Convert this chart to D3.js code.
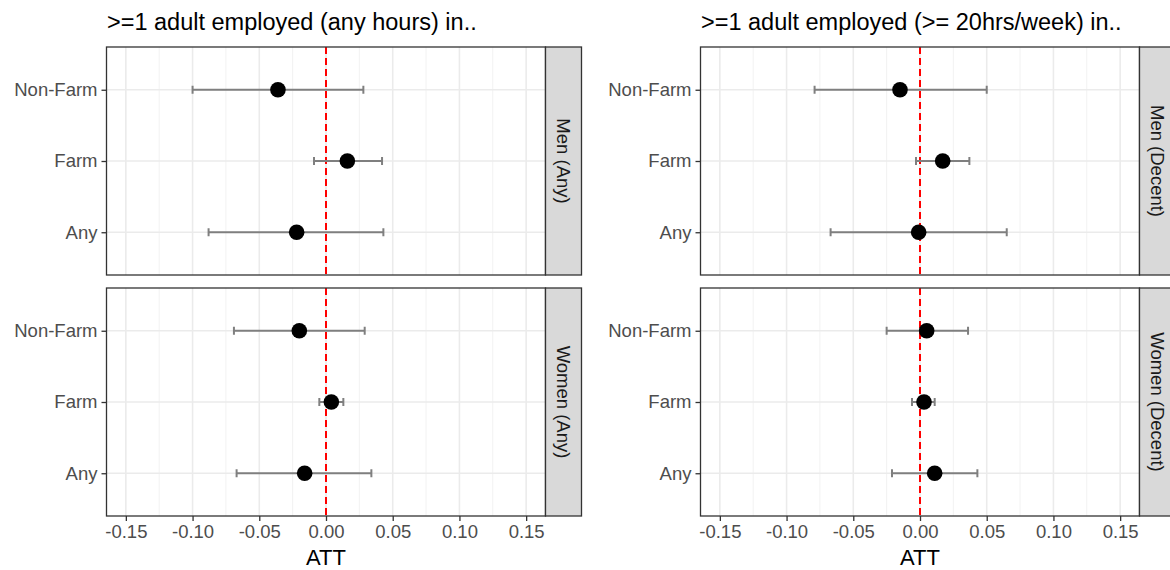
<!DOCTYPE html>
<html>
<head>
<meta charset="utf-8">
<script src="https://cdn.jsdelivr.net/npm/d3@7"></script>
<style>
body { margin: 0; background: #fff; }
text { font-family: "Liberation Sans", Arial, sans-serif; }
</style>
</head>
<body>
<div id="chart"></div>
<script>
// categories and labels
var outcomes = ["Non-Farm", "Farm", "Any"];
var plotTitles = [">=1 adult employed (any hours) in..", ">=1 adult employed (>= 20hrs/week) in.."];
var stripLabels = [["Men (Any)", "Women (Any)"], ["Men (Decent)", "Women (Decent)"]];
var xTicks = [-0.15, -0.10, -0.05, 0.00, 0.05, 0.10, 0.15];

// ATT estimates and confidence bounds, order follows outcomes
var menAnyEst = [-0.036, 0.016, -0.022];
var menAnyLo = [-0.100, -0.009, -0.088];
var menAnyHi = [0.028, 0.042, 0.043];

var womenAnyEst = [-0.020, 0.004, -0.016];
var womenAnyLo = [-0.069, -0.005, -0.067];
var womenAnyHi = [0.029, 0.013, 0.034];

var menDecentEst = [-0.015, 0.017, -0.001];
var menDecentLo = [-0.079, -0.003, -0.067];
var menDecentHi = [0.050, 0.037, 0.065];

var womenDecentEst = [0.005, 0.003, 0.011];
var womenDecentLo = [-0.025, -0.006, -0.021];
var womenDecentHi = [0.036, 0.011, 0.043];

var W = 1170, H = 570;
var panelW = 439, panelH = 228, stripW = 36;
var colX = [106.5, 700.5];
var rowY = [47, 288];

var facets = [
	[[menAnyEst, menAnyLo, menAnyHi], [womenAnyEst, womenAnyLo, womenAnyHi]],
	[[menDecentEst, menDecentLo, menDecentHi], [womenDecentEst, womenDecentLo, womenDecentHi]]
];

var svg = d3.select("#chart").append("svg")
	.attr("width", W).attr("height", H);

var x = d3.scaleLinear().domain([-0.1645, 0.1645]).range([0, panelW]);
var y = d3.scalePoint().domain(outcomes).range([0, panelH]).padding(0.6);

// minor breaks sit half way between the major ones
var minorTicks = [];
for (var i = 0; i < xTicks.length - 1; i++) {
	minorTicks.push((xTicks[i] + xTicks[i + 1]) / 2);
}

for (var c = 0; c < 2; c++) {
	// plot title
	svg.append("text")
		.attr("x", colX[c] + 0.5)
		.attr("y", 30)
		.attr("font-size", 23.5)
		.attr("fill", "#000")
		.text(plotTitles[c]);

	for (var r = 0; r < 2; r++) {
		var g = svg.append("g").attr("transform", "translate(" + colX[c] + "," + rowY[r] + ")");
		var est = facets[c][r][0], lo = facets[c][r][1], hi = facets[c][r][2];

		g.append("rect").attr("width", panelW).attr("height", panelH).attr("fill", "#fff");

		// grid
		g.selectAll(".minor").data(minorTicks).enter().append("line")
			.attr("x1", function(d) { return x(d); }).attr("x2", function(d) { return x(d); })
			.attr("y1", 0).attr("y2", panelH)
			.attr("stroke", "#f2f2f2").attr("stroke-width", 1);
		g.selectAll(".major").data(xTicks).enter().append("line")
			.attr("x1", function(d) { return x(d); }).attr("x2", function(d) { return x(d); })
			.attr("y1", 0).attr("y2", panelH)
			.attr("stroke", "#ebebeb").attr("stroke-width", 1.6);
		g.selectAll(".hgrid").data(outcomes).enter().append("line")
			.attr("x1", 0).attr("x2", panelW)
			.attr("y1", function(d) { return y(d); }).attr("y2", function(d) { return y(d); })
			.attr("stroke", "#ebebeb").attr("stroke-width", 1.6);

		// reference line at zero
		g.append("line")
			.attr("x1", x(0)).attr("x2", x(0))
			.attr("y1", 0).attr("y2", panelH)
			.attr("stroke", "#ff0000").attr("stroke-width", 2)
			.attr("stroke-dasharray", "7,4");

		// error bars
		var bars = g.selectAll(".bar").data(outcomes).enter().append("g");
		bars.append("line")
			.attr("x1", function(d, i) { return x(lo[i]); })
			.attr("x2", function(d, i) { return x(hi[i]); })
			.attr("y1", function(d) { return y(d); }).attr("y2", function(d) { return y(d); })
			.attr("stroke", "#7f7f7f").attr("stroke-width", 2);
		bars.append("line")
			.attr("x1", function(d, i) { return x(lo[i]); })
			.attr("x2", function(d, i) { return x(lo[i]); })
			.attr("y1", function(d) { return y(d) - 4; }).attr("y2", function(d) { return y(d) + 4; })
			.attr("stroke", "#7f7f7f").attr("stroke-width", 2);
		bars.append("line")
			.attr("x1", function(d, i) { return x(hi[i]); })
			.attr("x2", function(d, i) { return x(hi[i]); })
			.attr("y1", function(d) { return y(d) - 4; }).attr("y2", function(d) { return y(d) + 4; })
			.attr("stroke", "#7f7f7f").attr("stroke-width", 2);

		// points
		g.selectAll(".pt").data(outcomes).enter().append("circle")
			.attr("cx", function(d, i) { return x(est[i]); })
			.attr("cy", function(d) { return y(d); })
			.attr("r", 7.8)
			.attr("fill", "#000");

		// panel border
		g.append("rect").attr("width", panelW).attr("height", panelH)
			.attr("fill", "none").attr("stroke", "#333333").attr("stroke-width", 1.3);

		// y axis
		var yAxis = g.append("g").call(d3.axisLeft(y).tickSize(5).tickPadding(4));
		yAxis.select(".domain").remove();
		yAxis.selectAll(".tick line").attr("stroke", "#333333").attr("stroke-width", 1.3);
		yAxis.selectAll(".tick text")
			.attr("font-size", 18.5).attr("fill", "#4d4d4d")
			.attr("font-family", "Liberation Sans, Arial, sans-serif");

		// x axis on the bottom row only
		if (r === 1) {
			var xAxis = g.append("g").attr("transform", "translate(0," + panelH + ")")
				.call(d3.axisBottom(x).tickValues(xTicks).tickSize(5).tickPadding(4));
			xAxis.select(".domain").remove();
			xAxis.selectAll(".tick line").attr("stroke", "#333333").attr("stroke-width", 1.3);
			xAxis.selectAll(".tick text")
				.attr("font-size", 18.5).attr("fill", "#4d4d4d")
				.attr("font-family", "Liberation Sans, Arial, sans-serif")
				.text(function(d) { return d3.format(".2f")(d).replace("−", "-"); });

			svg.append("text")
				.attr("x", colX[c] + x(0))
				.attr("y", 565)
				.attr("text-anchor", "middle")
				.attr("font-size", 22)
				.attr("fill", "#000")
				.text("ATT");
		}

		// strip
		var strip = g.append("g").attr("transform", "translate(" + panelW + ",0)");
		strip.append("rect").attr("width", stripW).attr("height", panelH)
			.attr("fill", "#d9d9d9").attr("stroke", "#333333").attr("stroke-width", 1.3);
		strip.append("text")
			.attr("transform", "translate(" + (stripW / 2) + "," + (panelH / 2) + ") rotate(90)")
			.attr("text-anchor", "middle")
			.attr("dy", "0.35em")
			.attr("font-size", 18.5)
			.attr("fill", "#1a1a1a")
			.text(stripLabels[c][r]);
	}
}
</script>
</body>
</html>
